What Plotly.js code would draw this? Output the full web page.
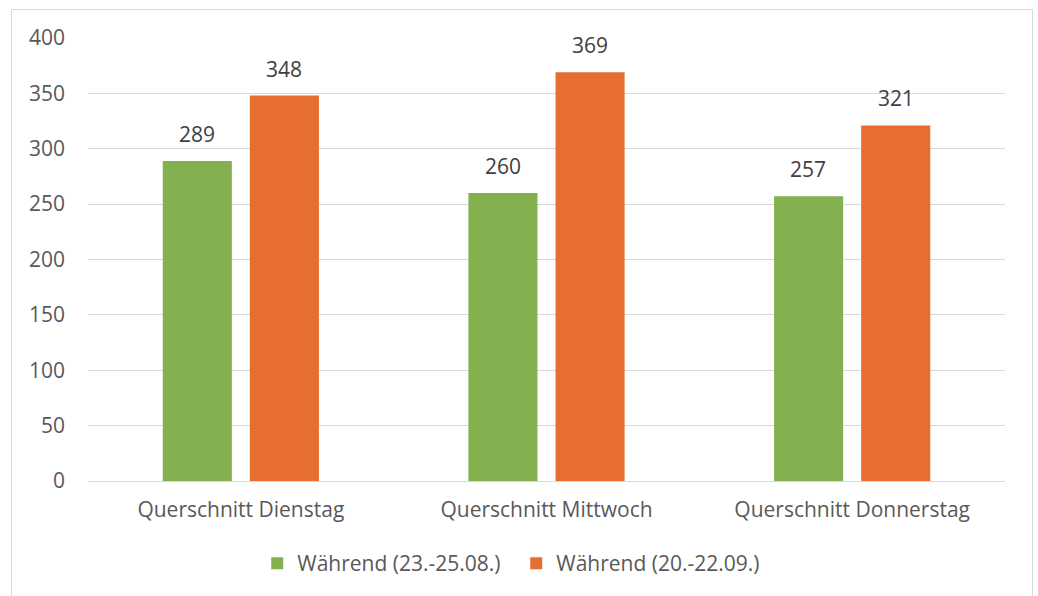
<!DOCTYPE html>
<html><head><meta charset="utf-8">
<script src="https://cdn.plot.ly/plotly-3.0.1.min.js"></script>
<style>
body{margin:0;background:#fff;}
#frame{position:absolute;left:11px;top:9px;width:1020px;height:600px;border:1px solid #d9d9d9;pointer-events:none;}
#chart{position:absolute;left:0;top:0;width:1038px;height:596px;}
</style></head>
<body>
<div id="chart"></div>
<div id="frame"></div>
<script>
const categories = ["Querschnitt Dienstag", "Querschnitt Mittwoch", "Querschnitt Donnerstag"];
const seriesNames = ["Während (23.-25.08.)", "Während (20.-22.09.)"];
const augustValues = [289, 260, 257];
const septemberValues = [348, 369, 321];
const yTicks = [0, 50, 100, 150, 200, 250, 300, 350, 400];

const fam = "Open Sans, Liberation Sans, sans-serif";
const font = {family: fam, size: 21, color: "#595959"};
const labelFont = {family: fam, size: 21, color: "#404040"};
const traces = [
  {type: "bar", name: seriesNames[0], x: categories, y: augustValues, marker: {color: "#84b04f"}},
  {type: "bar", name: seriesNames[1], x: categories, y: septemberValues, marker: {color: "#e66e2f"}}
];
const annotations = [];
[augustValues, septemberValues].forEach((vals, s) => {
  vals.forEach((v, i) => {
    annotations.push({x: categories[i], y: v, xref: "x", yref: "y", text: String(v),
      showarrow: false, xshift: s === 0 ? -44 : 43.5, yshift: 27, yanchor: "middle",
      font: labelFont});
  });
});
const layout = {
  width: 1038, height: 596,
  margin: {l: 88, r: 33, t: 38, b: 115},
  paper_bgcolor: "rgba(0,0,0,0)", plot_bgcolor: "#fff",
  font: font,
  barmode: "group", bargap: 0.43, bargroupgap: 0.207,
  showlegend: true,
  legend: {orientation: "h", x: 0.467, xanchor: "center", y: -0.14, yanchor: "top", font: font,
    itemwidth: 30, entrywidth: 214},
  annotations: annotations,
  xaxis: {type: "category", showgrid: false, showline: true, linecolor: "#d9d9d9", linewidth: 1,
    ticks: "", tickfont: font, ticklabelstandoff: 10},
  yaxis: {range: [0, 400], tickvals: yTicks, showgrid: true, gridcolor: "#d9d9d9", gridwidth: 1,
    zeroline: false, showline: false, ticks: "", tickfont: font, ticklabelstandoff: 22}
};
Plotly.newPlot("chart", traces, layout, {displayModeBar: false, staticPlot: true});
</script>
</body></html>
